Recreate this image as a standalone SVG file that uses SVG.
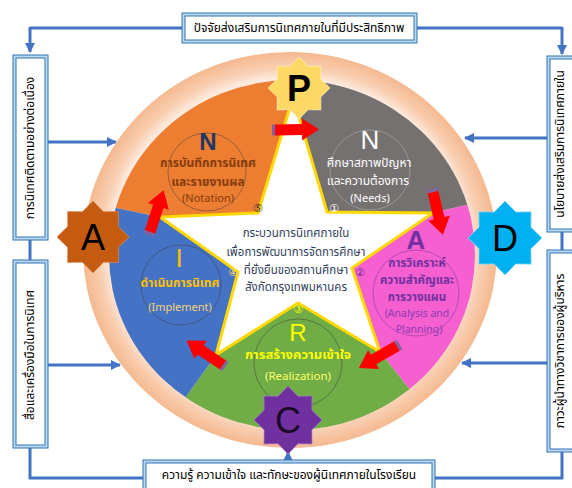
<svg xmlns="http://www.w3.org/2000/svg" width="572" height="488" viewBox="0 0 572 488">
<style>
.th{font-family:"Noto Sans Thai","Noto Sans","DejaVu Sans",sans-serif;text-anchor:middle}
.bx{fill:#bdd7ee;stroke:#2e75b6;stroke-width:1}
.bi{fill:#fff;stroke:#2e75b6;stroke-width:1}
.ln{stroke:#4472c4;stroke-width:3;fill:none}
.cr{fill:none;stroke:#3a3a3a;stroke-width:0.8;opacity:0.6}
.big{font-family:"Liberation Sans",Arial,sans-serif;text-anchor:middle}
.num{font-family:"DejaVu Sans","Noto Sans CJK SC",sans-serif;text-anchor:middle;font-size:11px}
.st{stroke-width:2;vector-effect:non-scaling-stroke}
</style>
<defs>
<marker id="ah" viewBox="0 0 10 10" refX="9" refY="5" markerWidth="3.5" markerHeight="3.5" orient="auto"><path d="M0,0L10,5L0,10z" fill="#4472c4"/></marker>
<radialGradient id="rg" cx="0.5" cy="0.5" r="0.5">
<stop offset="0.87" stop-color="#fdeadd"/><stop offset="0.92" stop-color="#f9cfb2"/><stop offset="1" stop-color="#f4b990"/>
</radialGradient>
<clipPath id="ce"><ellipse cx="292" cy="255" rx="183" ry="175"/></clipPath>
<polygon id="oct" points="0,-100 29.1,-70.2 70.7,-70.7 70.2,-29.1 100,0 70.2,29.1 70.7,70.7 29.1,70.2 0,100 -29.1,70.2 -70.7,70.7 -70.2,29.1 -100,0 -70.2,-29.1 -70.7,-70.7 -29.1,-70.2"/>
<g id="rarr"><polygon points="0,-5.5 27,-5.5 27,-11 44,0 27,11 27,5.5 0,5.5" fill="#ff0000"/><rect x="-3" y="-5.5" width="3" height="11" fill="#8064a2"/></g>
</defs>
<rect width="572" height="488" fill="#fff"/>

<g id="connectors">
<path class="ln" d="M30,28H182M417,28H562"/>
<path class="ln" d="M30,27V52" marker-end="url(#ah)"/>
<path class="ln" d="M562,27V54" marker-end="url(#ah)"/>
<path class="ln" d="M30,240V260M30,448V478H143M435,478H562V452M562,232V250"/>
<path class="ln" d="M48,142H116" marker-end="url(#ah)"/>
<path class="ln" d="M48,365H120" marker-end="url(#ah)"/>
<path class="ln" d="M547,138H465" marker-end="url(#ah)"/>
<path class="ln" d="M547,363H462" marker-end="url(#ah)"/>
<path class="ln" d="M288,462V452" marker-end="url(#ah)" stroke-width="2"/>
</g>

<g id="ring">
<ellipse cx="290" cy="250" rx="207" ry="198" fill="url(#rg)"/>
</g>
<g id="sectors" clip-path="url(#ce)">
<polygon points="295,245 -10,182 -10,-60 291,-60" fill="#ed7d31"/>
<polygon points="295,245 291,-60 600,-60 600,174" fill="#767171"/>
<polygon points="295,245 600,174 600,600 577,600" fill="#f55fcf"/>
<polygon points="295,245 577,600 40,600" fill="#70ad47"/>
<polygon points="295,245 40,600 -10,600 -10,182" fill="#4472c4"/>
</g>
<g id="star">
<polygon points="293,97 327,212 433,213 352,268 380,352 298,303 216,355 238,272 160,217 258,213" fill="#fff" stroke="#ffd800" stroke-width="3" stroke-linejoin="miter"/>
<text class="th" font-size="11.5" fill="#333f5c"><tspan x="296" y="237">กระบวนการนิเทศภายใน</tspan><tspan x="296" y="256">เพื่อการพัฒนาการจัดการศึกษา</tspan><tspan x="296" y="274">ที่ยั่งยืนของสถานศึกษา</tspan><tspan x="296" y="291">สังกัดกรุงเทพมหานคร</tspan></text>
</g>

<g id="node-notation">
<circle class="cr" cx="207" cy="172" r="39"/>
<text class="big" x="208" y="150" font-size="24" font-weight="bold" fill="#1f3864">N</text>
<text class="th" font-size="12" font-weight="bold" fill="#843c0c"><tspan x="208" y="167">การบันทึกการนิเทศ</tspan><tspan x="208" y="186">และรายงานผล</tspan></text>
<text class="th" x="208" y="202" font-size="11" fill="#843c0c">(Notation)</text>
<text class="num" x="258" y="212" fill="#1f1f1f">⑤</text>
</g>
<g id="node-needs">
<circle class="cr" cx="370" cy="170" r="40" style="stroke:#bbb"/>
<text class="big" x="370" y="149" font-size="26" fill="#fff">N</text>
<text class="th" font-size="12" fill="#fff"><tspan x="369" y="167">ศึกษาสภาพปัญหา</tspan><tspan x="368" y="185">และความต้องการ</tspan></text>
<text class="th" x="370" y="202" font-size="11" fill="#fff">(Needs)</text>
<text class="num" x="334" y="212" fill="#fff">①</text>
</g>
<g id="node-analysis">
<circle class="cr" cx="416" cy="293" r="43" style="stroke:#7030a0"/>
<text class="big" x="416" y="249" font-size="26" font-weight="bold" fill="#7030a0">A</text>
<text class="th" font-size="11.5" font-weight="bold" fill="#7030a0"><tspan x="417" y="267">การวิเคราะห์</tspan><tspan x="417" y="284">ความสำคัญและ</tspan><tspan x="417" y="301">การวางแผน</tspan></text>
<text class="th" font-size="10.5" fill="#8a3db3"><tspan x="417" y="317">(Analysis and</tspan><tspan x="419" y="333">Planning)</tspan></text>
<text class="num" x="360" y="276" fill="#7030a0">②</text>
</g>
<g id="node-implement">
<circle class="cr" cx="181" cy="285" r="40"/>
<text class="big" x="179" y="267" font-size="26" fill="#ffc000">I</text>
<text class="th" x="180" y="287" font-size="12" font-weight="bold" fill="#ffc000">ดำเนินการนิเทศ</text>
<text class="th" x="180" y="311" font-size="11" fill="#f4d27a">(Implement)</text>
<text class="num" x="233" y="276" fill="#ffd966">④</text>
</g>
<g id="node-realization">
<circle class="cr" cx="298" cy="363" r="44"/>
<text class="num" x="298" y="313" font-size="10" fill="#ffff00">③</text>
<text class="big" x="298" y="341" font-size="24" fill="#ffff00">R</text>
<text class="th" x="298" y="359" font-size="13" font-weight="bold" fill="#ffff00">การสร้างความเข้าใจ</text>
<text class="th" x="298" y="380" font-size="11.5" fill="#ffff66">(Realization)</text>
</g>

<g id="arrows">
<use href="#rarr" transform="translate(275,130) rotate(-1)"/>
<use href="#rarr" transform="translate(433,192) rotate(77)"/>
<use href="#rarr" transform="translate(397,346) rotate(150)"/>
<use href="#rarr" transform="translate(223,365) rotate(214)"/>
<use href="#rarr" transform="translate(150,232) rotate(-72)"/>
</g>

<g id="star-P">
<use href="#oct" transform="translate(299,88) scale(0.31)" fill="#ffd966" stroke="#fff2cc" class="st"/>
<text class="big" x="299" y="101" font-size="36" font-weight="bold" fill="#000">P</text>
</g>
<g id="star-D">
<use href="#oct" transform="translate(505,238) scale(0.37)" fill="#00b0f0" stroke="#9bdcf7" class="st"/>
<text class="big" x="505" y="251" font-size="36" fill="#000">D</text>
</g>
<g id="star-A">
<use href="#oct" transform="translate(93,237) scale(0.36)" fill="#c55a11" stroke="#e08a4c" class="st"/>
<text class="big" x="93" y="250" font-size="36" fill="#000">A</text>
</g>
<g id="star-C">
<use href="#oct" transform="translate(288,420) scale(0.34)" fill="#7030a0" stroke="#a77fc8" class="st"/>
<text class="big" x="288" y="433" font-size="36" fill="#1a0a26">C</text>
</g>

<g id="box-top">
<rect class="bx" x="182" y="13" width="235" height="30"/>
<rect class="bi" x="185" y="16" width="229" height="24"/>
<text class="th" x="299" y="32" font-size="12" fill="#000">ปัจจัยส่งเสริมการนิเทศภายในที่มีประสิทธิภาพ</text>
</g>
<g id="box-bottom">
<rect class="bx" x="143" y="460" width="292" height="32"/>
<rect class="bi" x="146" y="463" width="286" height="32"/>
<text class="th" x="289" y="479" font-size="12" fill="#000">ความรู้ ความเข้าใจ และทักษะของผู้นิเทศภายในโรงเรียน</text>
</g>
<g id="box-left-top">
<rect class="bx" x="13" y="55" width="35" height="185"/>
<rect class="bi" x="16" y="58" width="29" height="179"/>
<text class="th" transform="translate(34,148) rotate(-90)" font-size="12" fill="#000">การนิเทศติดตามอย่างต่อเนื่อง</text>
</g>
<g id="box-left-bottom">
<rect class="bx" x="13" y="260" width="35" height="188"/>
<rect class="bi" x="16" y="263" width="29" height="182"/>
<text class="th" transform="translate(34,355) rotate(-90)" font-size="12" fill="#000">สื่อและเครื่องมือในการนิเทศ</text>
</g>
<g id="box-right-top">
<rect class="bx" x="547" y="56" width="32" height="176"/>
<rect class="bi" x="550" y="59" width="32" height="170"/>
<text class="th" transform="translate(564,144) rotate(-90)" font-size="12" fill="#000">นโยบายส่งเสริมการนิเทศภายใน</text>
</g>
<g id="box-right-bottom">
<rect class="bx" x="547" y="250" width="32" height="202"/>
<rect class="bi" x="550" y="253" width="32" height="196"/>
<text class="th" transform="translate(564,351) rotate(-90)" font-size="12" fill="#000">ภาวะผู้นำทางวิชาการของผู้บริหาร</text>
</g>
</svg>
